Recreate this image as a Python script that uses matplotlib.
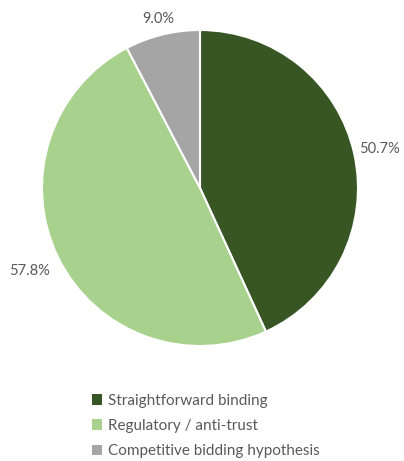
import matplotlib
matplotlib.use('Agg')
import matplotlib.pyplot as plt
import numpy as np
from matplotlib.patches import Patch

plt.rcParams['font.family'] = ['Lato', 'DejaVu Sans']

categories = ['Straightforward binding', 'Regulatory / anti-trust',
              'Competitive bidding hypothesis']
values = [50.7, 57.8, 9.0]
colors = ['#375623', '#A9D18E', '#A5A5A5']
label_dist = [1.16, 1.2, 1.10]

total = sum(values)

fig = plt.figure(figsize=(4.04, 4.61), dpi=100)
cx, cy, r = 200, 188, 158
ax = fig.add_axes([(cx - r) / 404, (461 - cy - r) / 461, 2 * r / 404, 2 * r / 461])

wedges, texts, autotexts = ax.pie(
    values, colors=colors, startangle=90, counterclock=False,
    autopct=lambda p: f'{p * total / 100:.1f}%', pctdistance=1.17,
    wedgeprops=dict(edgecolor='white', linewidth=1.5),
    textprops=dict(color='#595959', fontsize=10.5))
for w, t, d in zip(wedges, autotexts, label_dist):
    a = np.deg2rad((w.theta1 + w.theta2) / 2)
    t.set_position((d * np.cos(a), d * np.sin(a)))
ax.set_xlim(-1, 1)
ax.set_ylim(-1, 1)
ax.set_aspect('equal')

handles = [Patch(facecolor=c, edgecolor='none') for c in colors]
fig.legend(handles, categories, loc='upper left',
           bbox_to_anchor=(78 / 404, 1 - 380 / 461), frameon=False,
           fontsize=11, handlelength=0.7, handleheight=0.7,
           handletextpad=0.35, labelspacing=0.74, labelcolor='#595959')

fig.savefig('out.png', dpi=100)
